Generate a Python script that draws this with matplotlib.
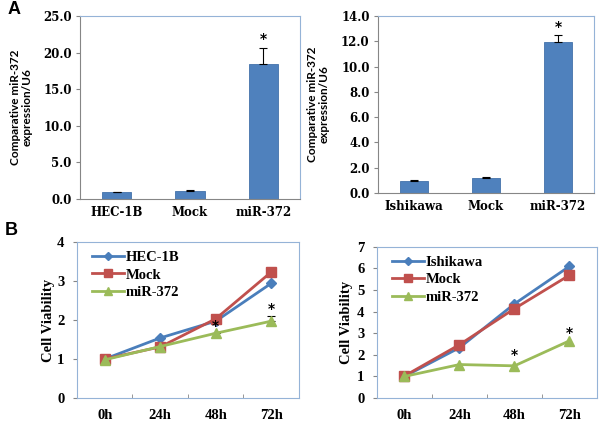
import matplotlib
matplotlib.use("Agg")
import matplotlib.pyplot as plt
import numpy as np

# ---- Data ----
a_left_cats = ["HEC-1B", "Mock", "miR-372"]
a_left_vals = [0.9, 1.1, 18.5]
a_left_err = [0.1, 0.1, 2.1]

a_right_cats = ["Ishikawa", "Mock", "miR-372"]
a_right_vals = [0.95, 1.2, 11.95]
a_right_err = [0.05, 0.05, 0.55]

times = ["0h", "24h", "48h", "72h"]
b_left_hec = [1.0, 1.54, 1.97, 2.94]
b_left_mock = [1.0, 1.31, 2.03, 3.23]
b_left_mir = [0.98, 1.32, 1.66, 1.97]
b_left_mir_err = [0.0, 0.0, 0.0, 0.12]

b_right_ish = [1.0, 2.33, 4.36, 6.1]
b_right_mock = [1.02, 2.47, 4.14, 5.69]
b_right_mir = [1.0, 1.55, 1.49, 2.65]

BAR = "#4F81BD"
BLUE = "#4A7EBB"
RED = "#C0504D"
GREEN = "#9BBB59"
FRAME = "#95B3D7"
AXGRAY = "#868686"
SERIF = ["Liberation Serif", "DejaVu Serif"]
CAMBRIA = ["DejaVu Serif"]
CALIBRI = ["Lato", "DejaVu Sans"]

fig = plt.figure(figsize=(6.0, 4.24), dpi=100)

def bar_panel(rect, cats, vals, errs, ymax, step, star_y):
    ax = fig.add_axes(rect)
    x = np.arange(len(cats))
    ax.bar(x, vals, width=0.4, color=BAR, edgecolor="#4372AA", linewidth=0.6, zorder=2)
    ax.errorbar(x, vals, yerr=[np.zeros(len(errs)), errs], fmt="none",
                ecolor="black", elinewidth=0.8, capsize=3, capthick=0.8, zorder=3)
    ax.set_xlim(-0.5, len(cats) - 0.5)
    ax.set_ylim(0, ymax)
    ticks = np.arange(0, ymax + step / 2, step)
    ax.set_yticks(ticks)
    ax.set_yticklabels([f"{t:.1f}" for t in ticks], fontsize=8.5, fontweight="bold",
                       family=CAMBRIA)
    ax.set_xticks(x)
    ax.set_xticklabels(cats, fontsize=8.5, fontweight="bold", family=CAMBRIA)
    ax.tick_params(axis="x", length=0, pad=5)
    ax.tick_params(axis="y", length=3, direction="out", color=AXGRAY, pad=3)
    for s in ["top", "right"]:
        ax.spines[s].set_color(FRAME)
    for s in ["left", "bottom"]:
        ax.spines[s].set_color(AXGRAY)
    for s in ax.spines.values():
        s.set_linewidth(0.8)
    ax.set_ylabel("Comparative miR-372\nexpression/U6", fontsize=8.5, fontweight="bold",
                  family=CALIBRI, linespacing=1.05)
    ax.text(2, star_y, "*", ha="center", va="center", fontsize=10, fontweight="bold")
    return ax

ax1 = bar_panel([0.1333, 0.5307, 0.3667, 0.4316], a_left_cats, a_left_vals, a_left_err,
                25, 5, 21.8)
ax1.yaxis.set_label_coords(-0.215, 0.5)
ax2 = bar_panel([0.63, 0.5448, 0.36, 0.4175], a_right_cats, a_right_vals, a_right_err,
                14, 2, 13.1)
ax2.yaxis.set_label_coords(-0.225, 0.5)

def line_panel(rect, series, labels, ymax, stars, err=None):
    ax = fig.add_axes(rect)
    x = np.arange(len(times))
    colors = [BLUE, RED, GREEN]
    markers = ["D", "s", "^"]
    msizes = [5, 7, 7]
    for vals, lab, c, m, ms in zip(series, labels, colors, markers, msizes):
        ax.plot(x, vals, color=c, marker=m, markersize=ms, linewidth=2, label=lab,
                markeredgecolor=c)
    if err is not None:
        ax.errorbar(x, series[2], yerr=[np.zeros(len(err)), err], fmt="none",
                    ecolor="black", elinewidth=0.8, capsize=3, capthick=0.8, zorder=1)
    for (sx, sy) in stars:
        ax.text(sx, sy, "*", ha="center", va="center", fontsize=10, fontweight="bold")
    ax.set_xlim(-0.5, len(times) - 0.5)
    ax.set_ylim(0, ymax)
    ax.set_yticks(np.arange(0, ymax + 1))
    ax.set_yticklabels([str(v) for v in range(ymax + 1)], fontsize=10.5, fontweight="bold",
                       family=SERIF)
    ax.set_xticks(x)
    ax.set_xticklabels(times, fontsize=10.5, fontweight="bold", family=SERIF)
    ax.set_xticks(np.arange(0.5, len(times) - 1), minor=True)
    ax.tick_params(axis="x", which="major", length=0, pad=8)
    ax.tick_params(axis="x", which="minor", length=3, direction="in", color=AXGRAY)
    ax.tick_params(axis="y", length=3, direction="out", color=AXGRAY, pad=6)
    for s in ax.spines.values():
        s.set_color(FRAME)
        s.set_linewidth(0.8)
    ax.set_ylabel("Cell Viability", fontsize=10.5, fontweight="bold", family=SERIF)
    ax.legend(loc="upper left", frameon=False, prop={"family": SERIF, "weight": "bold",
              "size": 10.5}, handlelength=2.2, handletextpad=0.1, labelspacing=0.3,
              borderaxespad=0.2, bbox_to_anchor=(0.03, 1.0), markerscale=0.85)
    return ax

ax3 = line_panel([0.1283, 0.0613, 0.37, 0.368], [b_left_hec, b_left_mock, b_left_mir],
                 ["HEC-1B", "Mock", "miR-372"], 4, [(2, 1.85), (3, 2.27)], err=b_left_mir_err)
ax3.yaxis.set_label_coords(-0.10, 0.5)
ax4 = line_panel([0.6283, 0.0613, 0.3667, 0.3565], [b_right_ish, b_right_mock, b_right_mir],
                 ["Ishikawa", "Mock", "miR-372"], 7, [(2, 2.0), (3, 3.0)])
ax4.yaxis.set_label_coords(-0.11, 0.5)

fig.text(8 / 600, 1 - 9 / 424, "A", fontsize=13, fontweight="bold", family="Liberation Sans",
         va="center", ha="left")
fig.text(5 / 600, 1 - 231 / 424, "B", fontsize=13, fontweight="bold", family="Liberation Sans",
         va="center", ha="left")

fig.savefig("out.png", dpi=100)
